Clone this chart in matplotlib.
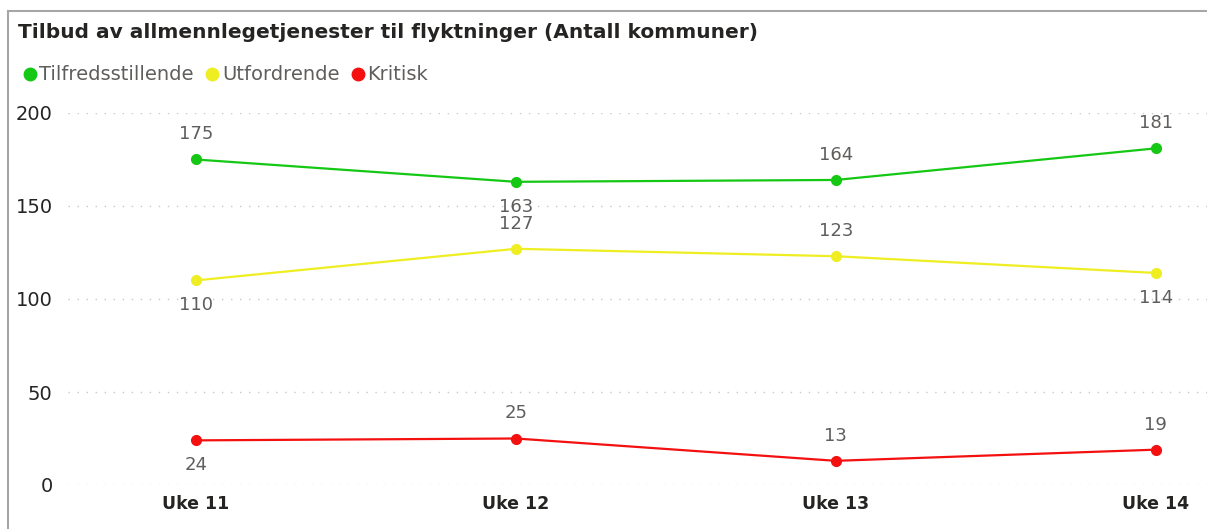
import matplotlib
matplotlib.use("Agg")
import matplotlib.pyplot as plt
from matplotlib.lines import Line2D

# ------------------------
# Data
# ------------------------
weeks = ["Uke 11", "Uke 12", "Uke 13", "Uke 14"]
tilfreds = [175, 163, 164, 181]
utfordrende = [110, 127, 123, 114]
kritisk = [24, 25, 13, 19]

series_names = ["Tilfredsstillende", "Utfordrende", "Kritisk"]
# label placement per point: +1 above, -1 below
tilfreds_pos = [1, -1, 1, 1]
utfordrende_pos = [-1, 1, 1, -1]
kritisk_pos = [-1, 1, 1, 1]

colors = ["#14C814", "#EEEE22", "#F51010"]
text_gray = "#605E5C"
dark = "#252423"

plt.rcParams['font.family'] = ['DejaVu Sans']

fig = plt.figure(figsize=(12.07, 5.29), dpi=100)
W, H = 1207, 529

ax = fig.add_axes([68 / W, (H - 485) / H, (W - 68) / W, 372 / H])
x = list(range(len(weeks)))

for vals, pos, col in zip([tilfreds, utfordrende, kritisk],
                          [tilfreds_pos, utfordrende_pos, kritisk_pos], colors):
    ax.plot(x, vals, color=col, lw=1.6, marker="o", ms=7, clip_on=False, zorder=3)
    for xi, v, p in zip(x, vals, pos):
        ax.annotate(str(v), (xi, v), xytext=(0, 18 * p), textcoords="offset points",
                    ha="center", va="center", fontsize=13, color=text_gray)

ax.set_xlim(-0.4, 3.16)
ax.set_ylim(0, 200)
ax.set_yticks([0, 50, 100, 150, 200])
ax.set_xticks(x)
ax.set_xticklabels(weeks, fontsize=12.5, fontweight="bold", color=dark)
ax.tick_params(axis="y", labelsize=14, labelcolor=dark, length=0, pad=11)
ax.tick_params(axis="x", length=0, pad=7)
ax.grid(axis="y", color="#C8C8C8", lw=1, linestyle=(0, (1, 5.5)))
ax.set_axisbelow(True)
for s in ax.spines.values():
    s.set_visible(False)

# title and legend
fig.text(18 / W, 1 - 33 / H, "Tilbud av allmennlegetjenester til flyktninger (Antall kommuner)",
         fontsize=14.5, fontweight="bold", color=dark, va="center", ha="left")
handles = [Line2D([], [], ls="none", marker="o", ms=9, color=c) for c in colors]
fig.legend(handles, series_names, loc="center left", bbox_to_anchor=(12 / W, 1 - 75 / H),
           ncol=3, frameon=False, fontsize=14, labelcolor=text_gray,
           handletextpad=0.0, columnspacing=0.45, handlelength=1.0, borderaxespad=0)

# outer frame (left and top edges)
fig.add_artist(Line2D([8 / W, 8 / W], [0, 1 - 11 / H], color="#A6A6A6", lw=1.5,
                      transform=fig.transFigure))
fig.add_artist(Line2D([8 / W, 1], [1 - 11 / H, 1 - 11 / H], color="#A6A6A6", lw=1.5,
                      transform=fig.transFigure))

fig.savefig("out.png", dpi=100)
